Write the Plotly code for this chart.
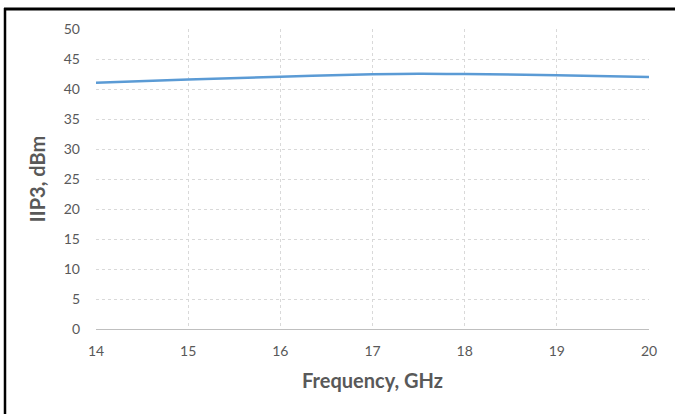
import plotly.graph_objects as go

freq_ghz = [14, 15, 16, 17, 17.5, 18, 19, 20]
iip3_dbm = [41.05, 41.6, 42.05, 42.45, 42.55, 42.5, 42.3, 42.0]

x_ticks = [14, 15, 16, 17, 18, 19, 20]
y_ticks = [0, 5, 10, 15, 20, 25, 30, 35, 40, 45, 50]

fig = go.Figure()
fig.add_trace(go.Scatter(
    x=freq_ghz, y=iip3_dbm, mode="lines",
    line=dict(color="#5B9BD5", width=2.5, shape="spline", smoothing=1.0),
    showlegend=False, hoverinfo="skip",
))

font_fam = "Lato, 'Open Sans', sans-serif"
W, H = 675, 414
l, r, t, b = 96, 26, 29, 85
pw, ph = W - l - r, H - t - b

def px_to_paper_x(px):
    return (px - l) / pw

def px_to_paper_y(py):
    return (H - b - py) / ph

fig.update_layout(
    width=W, height=H,
    margin=dict(l=l, r=r, t=t, b=b, pad=0),
    paper_bgcolor="white", plot_bgcolor="white",
    font=dict(family=font_fam, color="#595959", size=14),
    xaxis=dict(
        range=[14, 20], tickvals=x_ticks, ticktext=[str(v) for v in x_ticks],
        showgrid=True, gridcolor="#d9d9d9", griddash="dot", gridwidth=1,
        showline=True, linecolor="#bfbfbf", linewidth=1,
        zeroline=False, ticks="", ticklabelstandoff=9,
        tickfont=dict(size=14, color="#595959"),
        title=dict(text="<b>Frequency, GHz</b>", font=dict(size=20, color="#595959"), standoff=16),
    ),
    yaxis=dict(
        range=[0, 50], tickvals=y_ticks, ticktext=[str(v) for v in y_ticks],
        showgrid=True, gridcolor="#d9d9d9", griddash="dot", gridwidth=1,
        showline=False, zeroline=False, ticks="", ticklabelstandoff=15,
        tickfont=dict(size=14, color="#595959"),
        title=dict(text="<b>IIP3, dBm</b>", font=dict(size=20, color="#595959"), standoff=12),
    ),
    shapes=[
        dict(type="line", xref="paper", yref="paper",
             x0=px_to_paper_x(4), x1=px_to_paper_x(676),
             y0=px_to_paper_y(9), y1=px_to_paper_y(9),
             line=dict(color="black", width=3)),
        dict(type="line", xref="paper", yref="paper",
             x0=px_to_paper_x(5), x1=px_to_paper_x(5),
             y0=px_to_paper_y(8), y1=px_to_paper_y(416),
             line=dict(color="black", width=2.5)),
    ],
)

fig.write_html("out.html", config={"displayModeBar": False},
               post_script="document.body.style.margin='0';document.body.style.overflow='hidden';")
